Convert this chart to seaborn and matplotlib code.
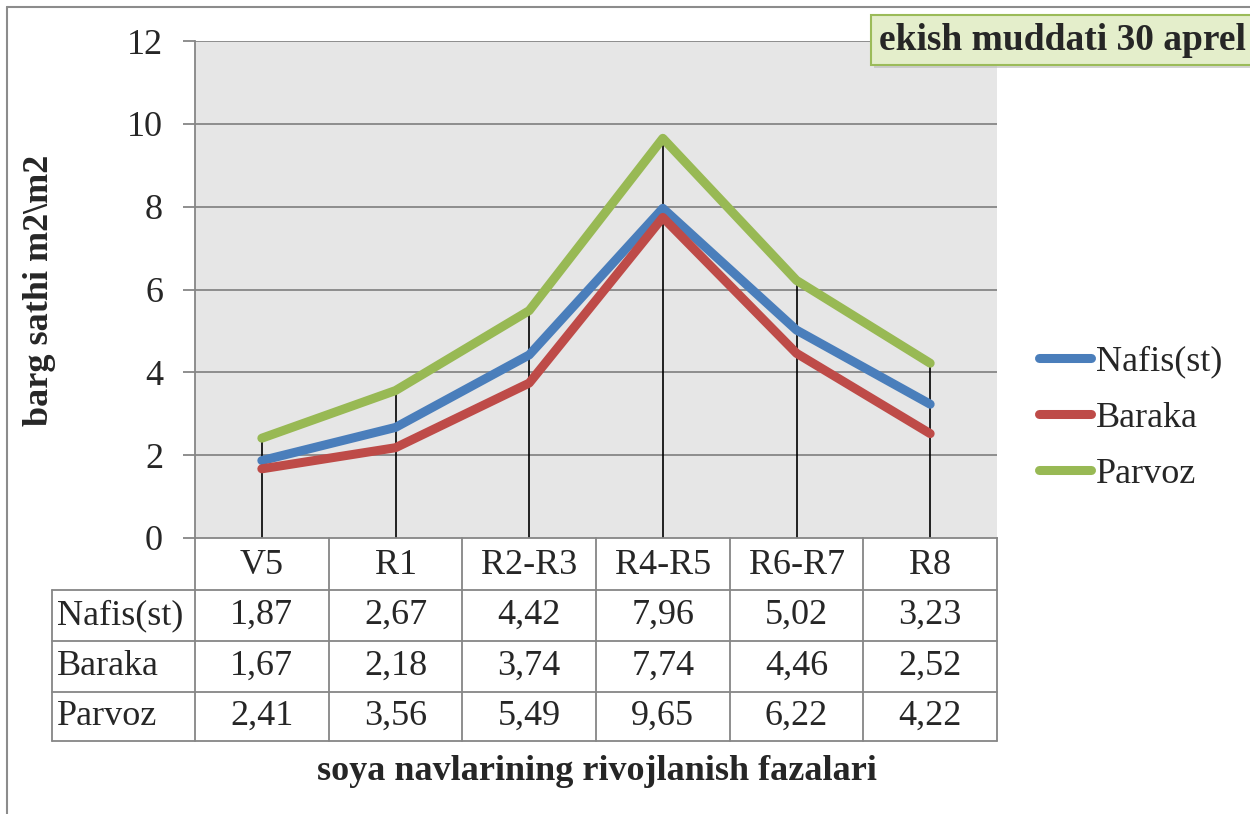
import numpy as np
import pandas as pd
import matplotlib
matplotlib.use("Agg")
import matplotlib.pyplot as plt
import seaborn as sns
from matplotlib.lines import Line2D
from matplotlib.patches import Rectangle

# ---- data ----
categories = ["V5", "R1", "R2-R3", "R4-R5", "R6-R7", "R8"]
nafis = [1.87, 2.67, 4.42, 7.96, 5.02, 3.23]
baraka = [1.67, 2.18, 3.74, 7.74, 4.46, 2.52]
parvoz = [2.41, 3.56, 5.49, 9.65, 6.22, 4.22]
series_names = ["Nafis(st)", "Baraka", "Parvoz"]
yticks = [0, 2, 4, 6, 8, 10, 12]
title_box = "ekish muddati 30 aprel"
ylabel = "barg sathi m2\\m2"
xlabel = "soya navlarining rivojlanish fazalari"

series = [nafis, baraka, parvoz]
colors = ["#4A7EBB", "#BE4B48", "#98B954"]

df = pd.DataFrame({
    "phase": categories * 3,
    "value": nafis + baraka + parvoz,
    "variety": sum([[n] * len(categories) for n in series_names], []),
})

sns.set_theme(style="white")
plt.rcParams["font.family"] = ["Liberation Serif", "DejaVu Serif"]

W, H = 1250, 814
fig = plt.figure(figsize=(W / 100, H / 100), dpi=100)
fig.patch.set_facecolor("white")

def fx(px):
    return px / W

def fy(py):
    return 1 - py / H

left, right, top, bottom = 195, 997, 41, 538
ax = fig.add_axes([fx(left), fy(bottom), fx(right) - fx(left), fy(top) - fy(bottom)])
ax.set_facecolor("#E6E6E6")

gridc = "#868686"
fs = 26

# drop lines (from axis to highest point)
xs = np.arange(len(categories))
maxvals = [max(v) for v in zip(*series)]
ax.vlines(xs, 0, maxvals, color="black", lw=1.2, zorder=2)

sns.lineplot(data=df, x="phase", y="value", hue="variety", palette=colors,
             linewidth=6.5, sort=False, ax=ax, legend=False, zorder=3,
             solid_capstyle="round", solid_joinstyle="round")

ax.set_xlim(-0.5, len(categories) - 0.5)
ax.set_ylim(0, 12)
ax.set_yticks(yticks)
ax.set_yticklabels([str(t) for t in yticks], fontsize=fs)
ax.set_xticks([])
ax.set_xlabel("")
ax.set_ylabel("")
for t in yticks[1:]:
    ax.axhline(t, color=gridc, lw=1.3, zorder=1)
ax.tick_params(axis="y", direction="out", length=9, width=1.3, color=gridc, pad=14, left=True)
for s in ["top", "right"]:
    ax.spines[s].set_visible(False)
for s in ["left", "bottom"]:
    ax.spines[s].set_color(gridc)
    ax.spines[s].set_linewidth(1.3)

# ---- data table below the plot ----
ppx = (right - left) / len(categories)

def ya(py):
    return -(py - bottom) / (bottom - top)

def xd(px):
    return -0.5 + (px - left) / ppx

trans = ax.get_xaxis_transform()
row_edges = [538, 590, 641, 692, 741]
for py in row_edges[1:]:
    ax.plot([xd(52), xd(right)], [ya(py), ya(py)], transform=trans, color=gridc,
            lw=1.3, clip_on=False)
for k in range(len(categories) + 1):
    ax.plot([k - 0.5, k - 0.5], [ya(538), ya(741)], transform=trans, color=gridc,
            lw=1.3, clip_on=False)
ax.plot([xd(52), xd(52)], [ya(590), ya(741)], transform=trans, color=gridc,
        lw=1.3, clip_on=False)

for k, c in enumerate(categories):
    ax.text(k, ya(565), c, transform=trans, ha="center", va="center",
            fontsize=fs, clip_on=False)
for r, (name, vals) in enumerate(zip(series_names, series)):
    yc = ya((row_edges[r + 1] + row_edges[r + 2]) / 2)
    ax.text(xd(57), yc, name, transform=trans, ha="left", va="center",
            fontsize=fs, clip_on=False)
    for k, v in enumerate(vals):
        ax.text(k, yc, f"{v:.2f}".replace(".", ","), transform=trans,
                ha="center", va="center", fontsize=fs, clip_on=False)

# axis labels
fig.text(fx(597), fy(772), xlabel, ha="center", va="center", fontsize=fs,
         fontweight="bold")
fig.text(fx(40), fy(290), ylabel, ha="center", va="center", rotation=90,
         fontsize=fs, fontweight="bold")

# legend
handles = [Line2D([0], [0], color=c, lw=6.5, solid_capstyle="round") for c in colors]
fig.legend(handles, series_names, loc="center left",
           bbox_to_anchor=(fx(1039), fy(418)), frameon=False, fontsize=fs,
           handlelength=1.45, handletextpad=0.12, labelspacing=0.64,
           borderpad=0, borderaxespad=0)

# title box (extends past the right edge, as in the original)
fig.add_artist(Rectangle((fx(874), fy(68)), fx(420), fy(17) - fy(68),
                         transform=fig.transFigure, fc="#B8B8B8", ec="none",
                         alpha=0.6, zorder=4))
fig.add_artist(Rectangle((fx(871), fy(65)), fx(420), fy(15) - fy(65),
                         transform=fig.transFigure, fc="#E4EECB", ec="#9BBB59",
                         lw=1.5, zorder=5))
fig.text(fx(879), fy(41), title_box, ha="left", va="center", fontsize=27,
         fontweight="bold", zorder=6)

# outer chart border
fig.add_artist(Line2D([fx(7), fx(7)], [fy(7), 0], color="#8C8C8C", lw=1.5))
fig.add_artist(Line2D([fx(7), 1], [fy(7), fy(7)], color="#8C8C8C", lw=1.5))

fig.savefig("out.png", dpi=100, facecolor="white")
